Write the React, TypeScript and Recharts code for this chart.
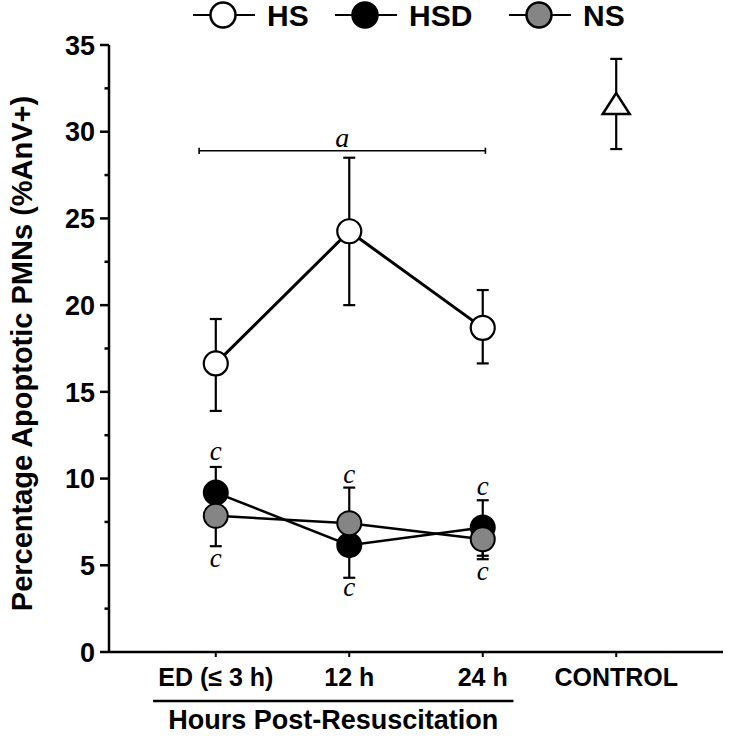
import React from 'react';
import { ComposedChart, Line, XAxis, YAxis, ErrorBar, ReferenceLine, Legend, Label } from 'recharts';

// ---- data ----
const xPositions = [1, 2, 3, 4];
const xLabels = ['ED (≤ 3 h)', '12 h', '24 h', 'CONTROL'];

const hsValues = [16.64, 24.26, 18.69, null];
const hsErrors = [[2.74, 2.56], [4.26, 4.24], [2.05, 2.18], null];

const hsdValues = [9.19, 6.16, 7.18, null];
const hsdErrors = [[1.3, 1.48], [1.88, 1.5], [1.63, 1.57], null];

const nsValues = [7.85, 7.43, 6.5, null];
const nsErrors = [[1.75, 1.2], [1.0, 2.05], [1.15, 1.0], null];

const controlValues = [null, null, null, 31.6];
const controlErrors = [null, null, null, [2.6, 2.6]];

const cAbove = [11.4, 10.1, 9.38, null];
const cBelow = [5.25, 3.6, 4.5, null];

const yTicks = [0, 2.5, 5, 7.5, 10, 12.5, 15, 17.5, 20, 22.5, 25, 27.5, 30, 32.5, 35];

const bracketA = { from: 0.875, to: 3.02, y: 28.9, half: 0.18, label: 'a' };
const axisGroup = { from: 0.53, to: 3.23, y: -2.83, label: 'Hours Post-Resuscitation' };

const legendItems = [
  { name: 'HS', fill: '#ffffff' },
  { name: 'HSD', fill: '#000000' },
  { name: 'NS', fill: '#858585' },
];

const data = xPositions.map((x, i) => ({
  x,
  hs: hsValues[i],
  hsErr: hsErrors[i] ?? undefined,
  hsd: hsdValues[i],
  hsdErr: hsdErrors[i] ?? undefined,
  ns: nsValues[i],
  nsErr: nsErrors[i] ?? undefined,
  ctrl: controlValues[i],
  ctrlErr: controlErrors[i] ?? undefined,
  cUp: cAbove[i],
  cDown: cBelow[i],
}));

// ---- styling constants ----
const SANS = '"Liberation Sans", Arial, sans-serif';
const SERIF = '"Liberation Serif", "Times New Roman", serif';
const TICK_SIZE = 9;
const TICK_MARGIN = 5;

const legendLefts = [193, 335, 509];

const renderLegend = () => (
  <div style={{ position: 'relative', width: 731, height: 32 }}>
    {legendItems.map((it, i) => (
      <div
        key={it.name}
        style={{ position: 'absolute', left: legendLefts[i], top: 0, height: 32, display: 'flex', alignItems: 'center' }}
      >
        <svg width={62} height={32} style={{ display: 'block' }}>
          <line x1={0} x2={62} y1={15} y2={15} stroke="#000" strokeWidth={2} />
          <circle cx={30} cy={15} r={12.5} fill={it.fill} stroke="#000" strokeWidth={2.5} />
        </svg>
        <span style={{ marginLeft: 12, fontFamily: SANS, fontWeight: 'bold', fontSize: 30, lineHeight: '32px', color: '#000' }}>
          {it.name}
        </span>
      </div>
    ))}
  </div>
);

const YTick = (props: any) => {
  const { x, y, payload } = props;
  const v = payload.value;
  const major = v % 5 === 0;
  const axisX = x + TICK_MARGIN + TICK_SIZE;
  return (
    <g>
      <line x1={axisX - (major ? TICK_SIZE : 4.5)} x2={axisX} y1={y} y2={y} stroke="#000" strokeWidth={2.5} />
      {major && (
        <text x={x} y={y} dy="0.36em" textAnchor="end" fontFamily={SANS} fontWeight="bold" fontSize={27} fill="#000">
          {v}
        </text>
      )}
    </g>
  );
};

const TriangleDot = (props: any) => {
  const { cx, cy } = props;
  if (cy == null || isNaN(cy)) return <g key={props.key} />;
  return (
    <polygon
      key={props.key}
      points={`${cx},${cy - 11} ${cx - 13.5},${cy + 10} ${cx + 13.5},${cy + 10}`}
      fill="#fff"
      stroke="#000"
      strokeWidth={2.5}
    />
  );
};

const LetterDot = (props: any) => {
  const { cx, cy } = props;
  if (cy == null || isNaN(cy)) return <g key={props.key} />;
  return (
    <text key={props.key} x={cx} y={cy} dy="0.22em" textAnchor="middle" fontFamily={SERIF} fontStyle="italic" fontSize={27} fill="#000">
      c
    </text>
  );
};

const YLabel = (props: any) => {
  const vb = props.viewBox || { x: 0, y: 45, width: 109, height: 607 };
  const cx = vb.x + 32;
  const cy = vb.y + vb.height / 2 + 5;
  return (
    <text
      x={cx}
      y={cy}
      transform={`rotate(-90, ${cx}, ${cy})`}
      textAnchor="middle"
      fontFamily={SANS}
      fontWeight="bold"
      fontSize={29}
      fill="#000"
    >
      Percentage Apoptotic PMNs (%AnV+)
    </text>
  );
};

const errProps = { width: 6, strokeWidth: 2.2, stroke: '#000', direction: 'y' as const, isAnimationActive: false };

export default function App() {
  return (
    <div style={{ position: 'absolute', left: 0, top: 0, background: '#fff' }}>
      <ComposedChart width={731} height={748} data={data} margin={{ top: 13, right: 8, bottom: 6, left: 0 }}>
        <Legend
          verticalAlign="top"
          align="left"
          content={renderLegend}
          wrapperStyle={{ top: 0, left: 0, width: 731, height: 32 }}
        />
        <XAxis
          dataKey="x"
          type="number"
          domain={[0.2, 4.8]}
          allowDataOverflow
          ticks={xPositions}
          tickFormatter={(v: number) => xLabels[xPositions.indexOf(v)] ?? ''}
          height={90}
          axisLine={{ stroke: '#000', strokeWidth: 2.5 }}
          tickLine={{ stroke: '#000', strokeWidth: 2 }}
          tickSize={5}
          tickMargin={11}
          tick={{ fontFamily: SANS, fontWeight: 'bold', fontSize: 25, fill: '#000' }}
        />
        <YAxis
          type="number"
          domain={[0, 35]}
          allowDataOverflow
          ticks={yTicks}
          interval={0}
          width={109}
          axisLine={{ stroke: '#000', strokeWidth: 2.5 }}
          tickLine={false}
          tickSize={TICK_SIZE}
          tickMargin={TICK_MARGIN}
          tick={<YTick />}
        >
          <Label content={<YLabel />} />
        </YAxis>

        <ReferenceLine
          segment={[{ x: bracketA.from, y: bracketA.y }, { x: bracketA.to, y: bracketA.y }]}
          stroke="#000"
          strokeWidth={1.6}
          ifOverflow="visible"
        >
          <Label value={bracketA.label} position="top" offset={4} fontFamily={SERIF} fontStyle="italic" fontSize={28} fill="#000" />
        </ReferenceLine>
        <ReferenceLine
          segment={[{ x: bracketA.from, y: bracketA.y - bracketA.half }, { x: bracketA.from, y: bracketA.y + bracketA.half }]}
          stroke="#000"
          strokeWidth={1.6}
          ifOverflow="visible"
        />
        <ReferenceLine
          segment={[{ x: bracketA.to, y: bracketA.y - bracketA.half }, { x: bracketA.to, y: bracketA.y + bracketA.half }]}
          stroke="#000"
          strokeWidth={1.6}
          ifOverflow="visible"
        />
        <ReferenceLine
          segment={[{ x: axisGroup.from, y: axisGroup.y }, { x: axisGroup.to, y: axisGroup.y }]}
          stroke="#000"
          strokeWidth={2.5}
          ifOverflow="visible"
        >
          <Label value={axisGroup.label} position="bottom" offset={9} fontFamily={SANS} fontWeight="bold" fontSize={27} fill="#000" />
        </ReferenceLine>

        <Line
          dataKey="hs"
          type="linear"
          stroke="#000"
          strokeWidth={3}
          dot={{ r: 12, fill: '#fff', stroke: '#000', strokeWidth: 2.2 }}
          activeDot={false}
          isAnimationActive={false}
          legendType="none"
        >
          <ErrorBar dataKey="hsErr" {...errProps} />
        </Line>
        <Line
          dataKey="hsd"
          type="linear"
          stroke="#000"
          strokeWidth={2.5}
          dot={{ r: 12, fill: '#000', stroke: '#000', strokeWidth: 2 }}
          activeDot={false}
          isAnimationActive={false}
          legendType="none"
        >
          <ErrorBar dataKey="hsdErr" {...errProps} />
        </Line>
        <Line
          dataKey="ns"
          type="linear"
          stroke="#000"
          strokeWidth={2.5}
          dot={{ r: 12, fill: '#858585', stroke: '#000', strokeWidth: 2 }}
          activeDot={false}
          isAnimationActive={false}
          legendType="none"
        >
          <ErrorBar dataKey="nsErr" {...errProps} />
        </Line>
        <Line
          dataKey="ctrl"
          stroke="none"
          dot={<TriangleDot />}
          activeDot={false}
          isAnimationActive={false}
          legendType="none"
        >
          <ErrorBar dataKey="ctrlErr" {...errProps} />
        </Line>
        <Line dataKey="cUp" stroke="none" dot={<LetterDot />} activeDot={false} isAnimationActive={false} legendType="none" />
        <Line dataKey="cDown" stroke="none" dot={<LetterDot />} activeDot={false} isAnimationActive={false} legendType="none" />
      </ComposedChart>
    </div>
  );
}
